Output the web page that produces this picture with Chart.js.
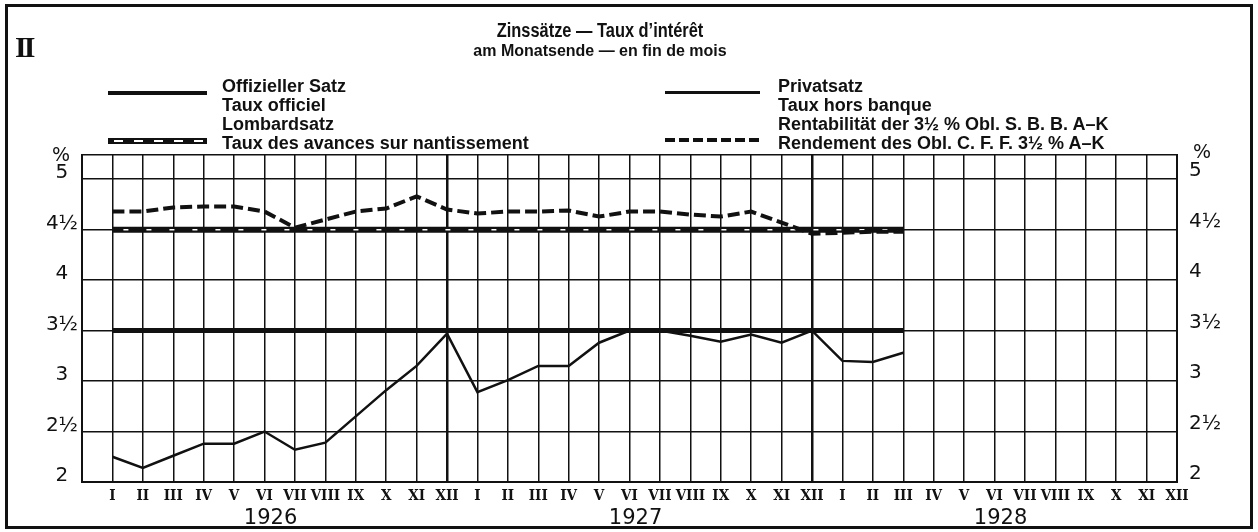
<!DOCTYPE html>
<html><head><meta charset="utf-8">
<script src="https://cdn.jsdelivr.net/npm/chart.js@4.4.1/dist/chart.umd.min.js"></script>
<style>
html,body{margin:0;padding:0;background:#fff;}
#wrap{position:relative;width:1258px;height:532px;overflow:hidden;background:#fff;}
#c{position:absolute;left:0;top:0;}
.t{position:absolute;white-space:nowrap;color:#111;font-family:'Liberation Sans',Arial,sans-serif;font-weight:bold;}
.leg{font-size:18px;line-height:19px;}
.frame{position:absolute;left:5px;top:4px;width:1248px;height:525px;border:3px solid #111;box-sizing:border-box;pointer-events:none;}
.pct{position:absolute;font-family:'DejaVu Sans',sans-serif;font-size:19px;color:#111;line-height:19px;}
.sample{position:absolute;}
</style></head>
<body>
<div id="wrap">
<canvas id="c" width="1258" height="532"></canvas>
<div class="frame"></div>
<div class="t" style="left:15px;top:30px;font-family:'Liberation Serif',serif;font-size:30px;letter-spacing:-3px;">II</div>
<div class="t" id="title" style="left:0;width:1200px;text-align:center;top:19px;font-size:20px;line-height:22px;transform:scaleX(0.82);transform-origin:600px 0;"></div>
<div class="t" id="subtitle" style="left:0;width:1200px;text-align:center;top:42px;font-size:16px;line-height:17px;"></div>
<div class="sample" style="left:108px;top:91px;width:99px;height:4px;background:#111;"></div>
<div class="sample" style="left:108px;top:138px;width:99px;height:6px;background:#111;"><div style="position:absolute;left:0;top:2px;width:99px;height:2px;background:repeating-linear-gradient(90deg,transparent 0 6px,#fff 6px 15px,transparent 15px 20px);"></div></div>
<div class="sample" style="left:665px;top:91px;width:95px;height:3px;background:#111;"></div>
<div class="sample" style="left:665px;top:138px;width:95px;height:4px;background:repeating-linear-gradient(90deg,#111 0 10px,transparent 10px 14px);"></div>
<div class="t leg" id="legL" style="left:222px;top:77px;"></div>
<div class="t leg" id="legR" style="left:778px;top:77px;"></div>
<div class="pct" style="left:52px;top:145px;">%</div>
<div class="pct" style="left:1193px;top:142px;">%</div>
</div>
<script>
// ---- data ----
const months = ['I','II','III','IV','V','VI','VII','VIII','IX','X','XI','XII',
                'I','II','III','IV','V','VI','VII','VIII','IX','X','XI','XII',
                'I','II','III','IV','V','VI','VII','VIII','IX','X','XI','XII'];
const years = ['1926','1927','1928'];
// Offizieller Satz / Taux officiel  (I 1926 – III 1928)
const officialRate = [3.5,3.5,3.5,3.5,3.5,3.5,3.5,3.5,3.5,3.5,3.5,3.5,
                      3.5,3.5,3.5,3.5,3.5,3.5,3.5,3.5,3.5,3.5,3.5,3.5,
                      3.5,3.5,3.5];
// Lombardsatz / Taux des avances sur nantissement
const lombardRate = [4.5,4.5,4.5,4.5,4.5,4.5,4.5,4.5,4.5,4.5,4.5,4.5,
                     4.5,4.5,4.5,4.5,4.5,4.5,4.5,4.5,4.5,4.5,4.5,4.5,
                     4.5,4.5,4.5];
// Privatsatz / Taux hors banque
const privateRate = [2.25,2.14,2.26,2.38,2.38,2.50,2.32,2.39,2.65,2.91,3.15,3.47,
                     2.89,3.01,3.15,3.15,3.38,3.50,3.50,3.45,3.39,3.46,3.38,3.50,
                     3.20,3.19,3.28];
// Rendement des Obl. C.F.F. 3½ % A–K
const bondYield = [4.68,4.68,4.72,4.73,4.73,4.68,4.52,4.60,4.68,4.71,4.83,4.70,
                   4.66,4.68,4.68,4.69,4.63,4.68,4.68,4.65,4.63,4.68,4.57,4.46,
                   4.47,4.48,4.48];
const yTickValues = [2,2.5,3,3.5,4,4.5,5];
const yTickLabels = ['2','2½','3','3½','4','4½','5'];
const titleText = 'Zinssätze — Taux d\u2019intérêt';
const subtitleText = 'am Monatsende — en fin de mois';
const legendLeft = ['Offizieller Satz','Taux officiel','Lombardsatz','Taux des avances sur nantissement'];
const legendRight = ['Privatsatz','Taux hors banque','Rentabilität der 3½ % Obl. S. B. B. A–K','Rendement des Obl. C. F. F. 3½ % A–K'];

document.getElementById('title').textContent = titleText;
document.getElementById('subtitle').textContent = subtitleText;
document.getElementById('legL').innerHTML = legendLeft.join('<br>');
document.getElementById('legR').innerHTML = legendRight.join('<br>');

const Y_MIN = 2, Y_MAX = 5.24;
const INK = '#111';
const pts = arr => arr.map((v,i)=>({x:i,y:v}));
const yTicksBuild = s => { s.ticks = yTickValues.concat([Y_MAX]).map(v=>({value:v})); };
const yLabel = (v,i) => (i < yTickLabels.length ? yTickLabels[i] : '');
const yFont = {family:"'DejaVu Sans', sans-serif", size:20};

new Chart(document.getElementById('c'), {
  type:'line',
  data:{datasets:[
    {label:'Lombardsatz', data:pts(lombardRate), borderColor:INK, borderWidth:6, pointRadius:0, tension:0, order:5},
    {label:'Lombardsatz (Muster)', data:pts(lombardRate), borderColor:'#fff', borderWidth:1.5, borderDash:[5,18], borderDashOffset:12, pointRadius:0, tension:0, order:4},
    {label:'Offizieller Satz', data:pts(officialRate), borderColor:INK, borderWidth:5, pointRadius:0, tension:0, order:3},
    {label:'Rendement', data:pts(bondYield), borderColor:INK, borderWidth:4, borderDash:[12,5], pointRadius:0, tension:0, order:2},
    {label:'Privatsatz', data:pts(privateRate), borderColor:INK, borderWidth:2.5, pointRadius:0, tension:0, order:1}
  ]},
  options:{
    responsive:false, animation:false, devicePixelRatio:1,
    layout:{padding:{top:155,left:0,right:0,bottom:0}},
    plugins:{legend:{display:false}, tooltip:{enabled:false}, title:{display:false}},
    scales:{
      x:{type:'linear', min:-1, max:35, position:'bottom',
         afterBuildTicks:s=>{ s.ticks = months.map((m,i)=>({value:i})); },
         afterFit:s=>{ s.height = 24; },
         grid:{color:INK, lineWidth:c=> (c.tick && (c.tick.value===11||c.tick.value===23)) ? 2.5 : 1.5, drawTicks:false},
         border:{display:true, color:INK, width:2},
         ticks:{autoSkip:false, maxRotation:0, minRotation:0, padding:5, color:INK,
                font:{family:"'DejaVu Serif Condensed','Liberation Serif',serif", size:15, weight:'bold'},
                callback:(v,i)=>months[i]}
      },
      x2:{type:'linear', min:-1, max:35, position:'bottom',
         afterBuildTicks:s=>{ s.ticks = years.map((y,i)=>({value:i*12+5.2})); },
         afterFit:s=>{ s.height = 26; },
         grid:{display:false, drawTicks:false}, border:{display:false},
         ticks:{autoSkip:false, maxRotation:0, padding:0, color:INK,
                font:{family:"'DejaVu Sans', sans-serif", size:21},
                callback:(v,i)=>years[i]}
      },
      y:{type:'linear', min:Y_MIN, max:Y_MAX, position:'left',
         afterBuildTicks:yTicksBuild, afterFit:s=>{ s.width = 82; },
         grid:{color:INK, lineWidth:1.5, drawTicks:false},
         border:{display:true, color:INK, width:2},
         ticks:{padding:4, labelOffset:-6, crossAlign:'center', color:INK, font:yFont, callback:yLabel}
      },
      y2:{type:'linear', min:Y_MIN, max:Y_MAX, position:'right',
         afterBuildTicks:yTicksBuild, afterFit:s=>{ s.width = 81; },
         grid:{display:false, drawTicks:false},
         border:{display:true, color:INK, width:2},
         ticks:{padding:12, labelOffset:-8, color:INK, font:yFont, callback:yLabel}
      }
    }
  }
});
</script>
</body></html>
